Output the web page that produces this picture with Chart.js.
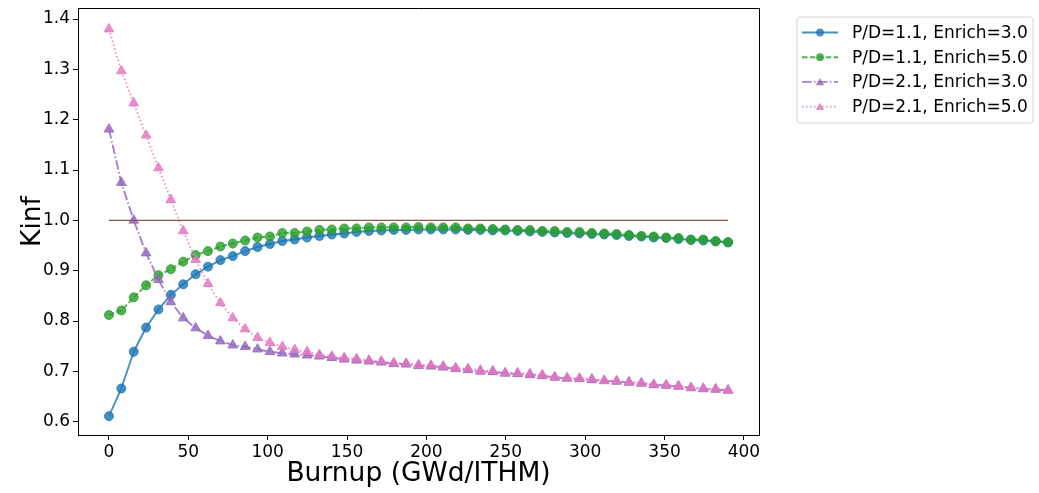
<!DOCTYPE html>
<html>
<head>
<meta charset="utf-8">
<script src="https://cdn.jsdelivr.net/npm/chart.js@4/dist/chart.umd.min.js"></script>
<style>
  html, body { margin: 0; padding: 0; background: #ffffff; }
  #wrap { width: 1039px; height: 493px; position: relative; }
</style>
</head>
<body>
<div id="wrap"><canvas id="kinfChart"></canvas></div>
<script>
// Burnup steps (GWd/ITHM)
const burnup = [0, 7.8, 15.6, 23.4, 31.2, 39, 46.8, 54.6, 62.4, 70.2,
  78, 85.8, 93.6, 101.4, 109.2, 117, 124.8, 132.6, 140.4, 148.2,
  156, 163.8, 171.6, 179.4, 187.2, 195, 202.8, 210.6, 218.4, 226.2,
  234, 241.8, 249.6, 257.4, 265.2, 273, 280.8, 288.6, 296.4, 304.2,
  312, 319.8, 327.6, 335.4, 343.2, 351, 358.8, 366.6, 374.4, 382.2, 390];

// Kinf, P/D = 1.1, enrichment 3.0
const kinfPD11E30 = [0.611, 0.666, 0.739, 0.787, 0.823, 0.852, 0.873, 0.893, 0.908, 0.921,
  0.929, 0.939, 0.947, 0.953, 0.959, 0.962, 0.966, 0.969, 0.972, 0.974,
  0.977, 0.979, 0.980, 0.981, 0.981, 0.982, 0.982, 0.982, 0.982, 0.981,
  0.981, 0.980, 0.980, 0.979, 0.978, 0.977, 0.976, 0.975, 0.974, 0.973,
  0.972, 0.971, 0.969, 0.968, 0.966, 0.965, 0.963, 0.961, 0.960, 0.958, 0.956];

// Kinf, P/D = 1.1, enrichment 5.0
const kinfPD11E50 = [0.812, 0.821, 0.847, 0.871, 0.891, 0.903, 0.918, 0.931, 0.939, 0.948,
  0.954, 0.960, 0.966, 0.968, 0.975, 0.975, 0.978, 0.981, 0.982, 0.984,
  0.984, 0.986, 0.986, 0.986, 0.986, 0.987, 0.986, 0.986, 0.986, 0.984,
  0.984, 0.983, 0.982, 0.981, 0.981, 0.979, 0.979, 0.977, 0.977, 0.975,
  0.974, 0.973, 0.971, 0.969, 0.968, 0.966, 0.965, 0.962, 0.962, 0.959, 0.957];

// Kinf, P/D = 2.1, enrichment 3.0
const kinfPD21E30 = [1.181, 1.075, 1.000, 0.935, 0.882, 0.838, 0.806, 0.786, 0.771, 0.760,
  0.752, 0.749, 0.744, 0.739, 0.736, 0.734, 0.732, 0.730, 0.727, 0.724,
  0.722, 0.720, 0.718, 0.715, 0.714, 0.711, 0.710, 0.708, 0.705, 0.703,
  0.700, 0.699, 0.696, 0.695, 0.693, 0.691, 0.688, 0.686, 0.685, 0.683,
  0.681, 0.680, 0.678, 0.676, 0.673, 0.672, 0.670, 0.667, 0.665, 0.664, 0.662];

// Kinf, P/D = 2.1, enrichment 5.0
const kinfPD21E50 = [1.380, 1.297, 1.233, 1.169, 1.104, 1.041, 0.979, 0.922, 0.874, 0.836,
  0.806, 0.784, 0.767, 0.757, 0.749, 0.743, 0.739, 0.733, 0.730, 0.727,
  0.725, 0.722, 0.720, 0.717, 0.716, 0.713, 0.712, 0.710, 0.707, 0.705,
  0.702, 0.701, 0.697, 0.697, 0.695, 0.693, 0.689, 0.687, 0.686, 0.685,
  0.682, 0.681, 0.679, 0.677, 0.674, 0.673, 0.671, 0.668, 0.666, 0.665, 0.663];

const seriesLabels = ['P/D=1.1, Enrich=3.0', 'P/D=1.1, Enrich=5.0',
                      'P/D=2.1, Enrich=3.0', 'P/D=2.1, Enrich=5.0'];

// Critical reference line k = 1 across the burnup range
const criticalK = [1.0, 1.0];
const criticalX = [0, 390];

const xTickValues = [0, 50, 100, 150, 200, 250, 300, 350, 400];
const yTickValues = [0.6, 0.7, 0.8, 0.9, 1.0, 1.1, 1.2, 1.3, 1.4];

const FONT = "'DejaVu Sans', sans-serif";

function pairs(xs, ys) { return xs.map((x, i) => ({ x: x, y: ys[i] })); }

const styles = [
  { color: 'rgba(31,119,180,0.82)',  dash: [],                  point: 'circle',   r: 4.5 },
  { color: 'rgba(44,160,44,0.82)',   dash: [5.5, 2.4],          point: 'circle',   r: 4.5 },
  { color: 'rgba(148,103,189,0.82)', dash: [9.6, 2.4, 1.5, 2.4], point: 'triangle', r: 5.6 },
  { color: 'rgba(227,119,194,0.82)', dash: [1.5, 2.5],          point: 'triangle', r: 5.6 }
];
const seriesData = [kinfPD11E30, kinfPD11E50, kinfPD21E30, kinfPD21E50];

const datasets = seriesData.map((ys, i) => ({
  label: seriesLabels[i],
  data: pairs(burnup, ys),
  borderColor: styles[i].color,
  backgroundColor: styles[i].color,
  borderWidth: 1.9,
  borderDash: styles[i].dash,
  pointStyle: styles[i].point,
  pointRadius: styles[i].r,
  pointBorderWidth: 1,
  pointBorderColor: styles[i].color,
  pointBackgroundColor: styles[i].color,
  tension: 0,
  order: 5 - i
}));

datasets.push({
  label: 'k=1',
  data: pairs(criticalX, criticalK),
  borderColor: '#8c564b',
  borderWidth: 1.1,
  pointRadius: 0,
  tension: 0,
  order: 0
});

function drawMarker(ctx, style, x, y, r) {
  ctx.beginPath();
  if (style === 'circle') {
    ctx.arc(x, y, r, 0, Math.PI * 2);
  } else {
    const a = 2 * Math.PI / 3;
    ctx.moveTo(x, y - r);
    ctx.lineTo(x + Math.sin(a) * r, y - Math.cos(a) * r);
    ctx.lineTo(x + Math.sin(2 * a) * r, y - Math.cos(2 * a) * r);
    ctx.closePath();
  }
  ctx.fill();
}

// Axes frame (top/right spines) and boxed legend to the right of the plot
const framePlugin = {
  id: 'frameAndLegend',
  afterDraw(chart) {
    const ctx = chart.ctx;
    const a = chart.chartArea;
    ctx.save();
    ctx.strokeStyle = '#000';
    ctx.lineWidth = 1;
    ctx.beginPath();
    ctx.moveTo(a.left, a.top + 0.5);
    ctx.lineTo(a.right + 0.5, a.top + 0.5);
    ctx.lineTo(a.right + 0.5, a.bottom);
    ctx.stroke();

    // legend box
    const bx = 797, by = 17, bw = 236, bh = 106, rad = 3;
    ctx.beginPath();
    ctx.moveTo(bx + rad, by);
    ctx.lineTo(bx + bw - rad, by);
    ctx.quadraticCurveTo(bx + bw, by, bx + bw, by + rad);
    ctx.lineTo(bx + bw, by + bh - rad);
    ctx.quadraticCurveTo(bx + bw, by + bh, bx + bw - rad, by + bh);
    ctx.lineTo(bx + rad, by + bh);
    ctx.quadraticCurveTo(bx, by + bh, bx, by + bh - rad);
    ctx.lineTo(bx, by + rad);
    ctx.quadraticCurveTo(bx, by, bx + rad, by);
    ctx.closePath();
    ctx.fillStyle = 'rgba(255,255,255,0.8)';
    ctx.fill();
    ctx.strokeStyle = '#d6d6d6';
    ctx.stroke();

    ctx.font = '17px ' + FONT;
    ctx.textBaseline = 'middle';
    ctx.textAlign = 'left';
    seriesLabels.forEach((label, i) => {
      const y = 32.5 + i * 24.7;
      const st = styles[i];
      ctx.strokeStyle = st.color;
      ctx.lineWidth = 1.9;
      ctx.setLineDash(st.dash);
      ctx.beginPath();
      ctx.moveTo(802, y);
      ctx.lineTo(838, y);
      ctx.stroke();
      ctx.setLineDash([]);
      ctx.fillStyle = st.color;
      drawMarker(ctx, st.point, 820, y + (st.point === 'triangle' ? 1 : 0), st.point === 'circle' ? 3.9 : 4.8);
      ctx.fillStyle = '#000';
      ctx.fillText(label, 852, y + 1);
    });
    ctx.restore();
  }
};

new Chart(document.getElementById('kinfChart'), {
  type: 'line',
  data: { datasets: datasets },
  options: {
    responsive: true,
    maintainAspectRatio: false,
    animation: false,
    layout: { padding: { top: 8, right: 280, left: 0, bottom: 0 } },
    plugins: { legend: { display: false }, tooltip: { enabled: false } },
    scales: {
      x: {
        type: 'linear',
        min: -19.5,
        max: 409.5,
        afterBuildTicks: s => { s.ticks = xTickValues.map(v => ({ value: v })); },
        afterFit: s => { s.height = 58; s.paddingLeft = 0; s.paddingRight = 0; },
        grid: { display: true, drawOnChartArea: false, drawTicks: true, tickLength: 5, color: '#000', tickWidth: 1 },
        border: { display: true, color: '#000', width: 1 },
        ticks: { color: '#000', font: { family: FONT, size: 17 }, padding: 2, maxRotation: 0, autoSkip: false,
                 callback: v => String(v) },
        title: { display: true, text: 'Burnup (GWd/ITHM)', color: '#000',
                 font: { family: FONT, size: 26.5 }, padding: { top: 0, bottom: 3 } }
      },
      y: {
        type: 'linear',
        min: 0.5735,
        max: 1.422,
        afterBuildTicks: s => { s.ticks = yTickValues.map(v => ({ value: v })); },
        afterFit: s => { s.width = 78; s.paddingTop = 0; s.paddingBottom = 0; },
        grid: { display: true, drawOnChartArea: false, drawTicks: true, tickLength: 5, color: '#000', tickWidth: 1 },
        border: { display: true, color: '#000', width: 1 },
        ticks: { color: '#000', font: { family: FONT, size: 17 }, padding: 3, autoSkip: false,
                 callback: v => Number(v).toFixed(1) },
        title: { display: true, text: 'Kinf', color: '#000',
                 font: { family: FONT, size: 26.5 }, padding: { top: 17, bottom: 0 } }
      }
    }
  },
  plugins: [framePlugin]
});
</script>
</body>
</html>
